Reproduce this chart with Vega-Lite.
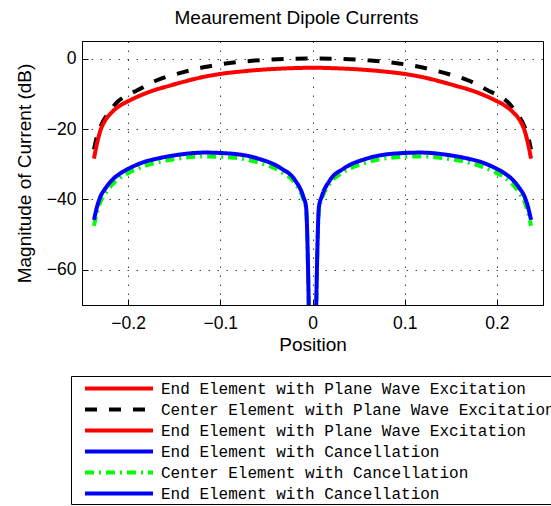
{
  "$schema": "https://vega.github.io/schema/vega-lite/v6.json",
  "width": 461,
  "height": 264,
  "autosize": {"type": "none"},
  "padding": {"left": 82, "top": 41, "right": 8, "bottom": 201},
  "background": "white",
  "title": {"text": "Meaurement Dipole Currents", "font": "Liberation Sans", "fontSize": 19, "fontWeight": "normal", "color": "black", "anchor": "middle", "dx": -16, "offset": 13},
  "config": {
    "view": {"stroke": "black", "strokeWidth": 1},
    "axis": {"domainColor": "black", "domainWidth": 1, "tickColor": "black", "labelColor": "black", "titleColor": "black", "labelFont": "Liberation Sans", "titleFont": "Liberation Sans", "labelFontSize": 17.5, "titleFontSize": 19, "titleFontWeight": "normal", "grid": true, "gridColor": "black", "gridDash": [1.5, 7.5], "gridOpacity": 0.75, "tickSize": -6},
    "legend": {"orient": "none", "legendX": -11, "legendY": 335, "direction": "vertical", "symbolType": "M-4.25,0H4.25", "symbolSize": 256, "symbolStrokeWidth": 4, "symbolOffset": 35.5, "labelOffset": 32, "labelFont": "Liberation Mono", "labelFontSize": 16, "labelColor": "black", "labelLimit": 1000, "strokeColor": "black", "fillColor": "white", "padding": 2.5, "rowPadding": 3.0, "cornerRadius": 0}
  },
  "data": {"values": [
    {"s": "k", "x": -0.237, "y": -25.8},
    {"s": "k", "x": -0.2337, "y": -22.0},
    {"s": "k", "x": -0.2275, "y": -18.0},
    {"s": "k", "x": -0.22, "y": -15.0},
    {"s": "k", "x": -0.212, "y": -12.4},
    {"s": "k", "x": -0.2, "y": -10.3},
    {"s": "k", "x": -0.19, "y": -9.0},
    {"s": "k", "x": -0.17, "y": -6.3},
    {"s": "k", "x": -0.142, "y": -4.0},
    {"s": "k", "x": -0.117, "y": -2.4},
    {"s": "k", "x": -0.088, "y": -1.2},
    {"s": "k", "x": -0.063, "y": -0.57},
    {"s": "k", "x": -0.03, "y": -0.1},
    {"s": "k", "x": 0, "y": 0},
    {"s": "k", "x": 0.03, "y": -0.1},
    {"s": "k", "x": 0.063, "y": -0.57},
    {"s": "k", "x": 0.088, "y": -1.2},
    {"s": "k", "x": 0.117, "y": -2.4},
    {"s": "k", "x": 0.142, "y": -4.0},
    {"s": "k", "x": 0.17, "y": -6.3},
    {"s": "k", "x": 0.19, "y": -9.0},
    {"s": "k", "x": 0.2, "y": -10.3},
    {"s": "k", "x": 0.212, "y": -12.4},
    {"s": "k", "x": 0.22, "y": -15.0},
    {"s": "k", "x": 0.2275, "y": -18.0},
    {"s": "k", "x": 0.2337, "y": -22.0},
    {"s": "k", "x": 0.237, "y": -25.8},
    {"s": "r1", "x": -0.237, "y": -28.4},
    {"s": "r1", "x": -0.2337, "y": -24.1},
    {"s": "r1", "x": -0.23, "y": -20.4},
    {"s": "r1", "x": -0.2247, "y": -17.5},
    {"s": "r1", "x": -0.2174, "y": -15.2},
    {"s": "r1", "x": -0.2084, "y": -13.3},
    {"s": "r1", "x": -0.2, "y": -12.1},
    {"s": "r1", "x": -0.187, "y": -10.5},
    {"s": "r1", "x": -0.172, "y": -9.0},
    {"s": "r1", "x": -0.155, "y": -7.7},
    {"s": "r1", "x": -0.14, "y": -6.6},
    {"s": "r1", "x": -0.12, "y": -5.3},
    {"s": "r1", "x": -0.101, "y": -4.4},
    {"s": "r1", "x": -0.075, "y": -3.6},
    {"s": "r1", "x": -0.052, "y": -3.1},
    {"s": "r1", "x": -0.025, "y": -2.75},
    {"s": "r1", "x": 0, "y": -2.6},
    {"s": "r1", "x": 0.025, "y": -2.75},
    {"s": "r1", "x": 0.052, "y": -3.1},
    {"s": "r1", "x": 0.075, "y": -3.6},
    {"s": "r1", "x": 0.101, "y": -4.4},
    {"s": "r1", "x": 0.12, "y": -5.3},
    {"s": "r1", "x": 0.14, "y": -6.6},
    {"s": "r1", "x": 0.155, "y": -7.7},
    {"s": "r1", "x": 0.172, "y": -9.0},
    {"s": "r1", "x": 0.187, "y": -10.5},
    {"s": "r1", "x": 0.2, "y": -12.1},
    {"s": "r1", "x": 0.2084, "y": -13.3},
    {"s": "r1", "x": 0.2174, "y": -15.2},
    {"s": "r1", "x": 0.2247, "y": -17.5},
    {"s": "r1", "x": 0.23, "y": -20.4},
    {"s": "r1", "x": 0.2337, "y": -24.1},
    {"s": "r1", "x": 0.237, "y": -28.4},
    {"s": "g", "x": -0.237, "y": -47.5},
    {"s": "g", "x": -0.2337, "y": -43.7},
    {"s": "g", "x": -0.23, "y": -40.7},
    {"s": "g", "x": -0.2247, "y": -38.3},
    {"s": "g", "x": -0.2174, "y": -35.8},
    {"s": "g", "x": -0.2084, "y": -33.8},
    {"s": "g", "x": -0.1975, "y": -32.2},
    {"s": "g", "x": -0.183, "y": -30.6},
    {"s": "g", "x": -0.17, "y": -29.6},
    {"s": "g", "x": -0.15, "y": -28.6},
    {"s": "g", "x": -0.117, "y": -27.8},
    {"s": "g", "x": -0.088, "y": -28.1},
    {"s": "g", "x": -0.059, "y": -29.5},
    {"s": "g", "x": -0.034, "y": -32.2},
    {"s": "g", "x": -0.019, "y": -35.4},
    {"s": "g", "x": -0.01, "y": -39.9},
    {"s": "g", "x": -0.007, "y": -42.7},
    {"s": "g", "x": 0, "y": -110},
    {"s": "g", "x": 0.007, "y": -42.7},
    {"s": "g", "x": 0.01, "y": -39.9},
    {"s": "g", "x": 0.019, "y": -35.4},
    {"s": "g", "x": 0.034, "y": -32.2},
    {"s": "g", "x": 0.059, "y": -29.5},
    {"s": "g", "x": 0.088, "y": -28.1},
    {"s": "g", "x": 0.117, "y": -27.8},
    {"s": "g", "x": 0.15, "y": -28.6},
    {"s": "g", "x": 0.17, "y": -29.6},
    {"s": "g", "x": 0.183, "y": -30.6},
    {"s": "g", "x": 0.1975, "y": -32.2},
    {"s": "g", "x": 0.2084, "y": -33.8},
    {"s": "g", "x": 0.2174, "y": -35.8},
    {"s": "g", "x": 0.2247, "y": -38.3},
    {"s": "g", "x": 0.23, "y": -40.7},
    {"s": "g", "x": 0.2337, "y": -43.7},
    {"s": "g", "x": 0.237, "y": -47.5},
    {"s": "b1", "x": -0.237, "y": -45.8},
    {"s": "b1", "x": -0.2337, "y": -42.1},
    {"s": "b1", "x": -0.23, "y": -39.2},
    {"s": "b1", "x": -0.2247, "y": -36.9},
    {"s": "b1", "x": -0.2174, "y": -34.5},
    {"s": "b1", "x": -0.2084, "y": -32.6},
    {"s": "b1", "x": -0.1975, "y": -31.0},
    {"s": "b1", "x": -0.183, "y": -29.4},
    {"s": "b1", "x": -0.17, "y": -28.5},
    {"s": "b1", "x": -0.15, "y": -27.5},
    {"s": "b1", "x": -0.117, "y": -26.7},
    {"s": "b1", "x": -0.088, "y": -27.0},
    {"s": "b1", "x": -0.059, "y": -28.4},
    {"s": "b1", "x": -0.034, "y": -31.2},
    {"s": "b1", "x": -0.019, "y": -34.5},
    {"s": "b1", "x": -0.01, "y": -39.2},
    {"s": "b1", "x": -0.007, "y": -42.1},
    {"s": "b1", "x": 0, "y": -110},
    {"s": "b1", "x": 0.007, "y": -42.1},
    {"s": "b1", "x": 0.01, "y": -39.2},
    {"s": "b1", "x": 0.019, "y": -34.5},
    {"s": "b1", "x": 0.034, "y": -31.2},
    {"s": "b1", "x": 0.059, "y": -28.4},
    {"s": "b1", "x": 0.088, "y": -27.0},
    {"s": "b1", "x": 0.117, "y": -26.7},
    {"s": "b1", "x": 0.15, "y": -27.5},
    {"s": "b1", "x": 0.17, "y": -28.5},
    {"s": "b1", "x": 0.183, "y": -29.4},
    {"s": "b1", "x": 0.1975, "y": -31.0},
    {"s": "b1", "x": 0.2084, "y": -32.6},
    {"s": "b1", "x": 0.2174, "y": -34.5},
    {"s": "b1", "x": 0.2247, "y": -36.9},
    {"s": "b1", "x": 0.23, "y": -39.2},
    {"s": "b1", "x": 0.2337, "y": -42.1},
    {"s": "b1", "x": 0.237, "y": -45.8}
  ]},
  "mark": {"type": "line", "strokeWidth": 4, "clip": true, "interpolate": "monotone"},
  "encoding": {
    "x": {"field": "x", "type": "quantitative", "scale": {"domain": [-0.25, 0.25], "nice": false, "zero": false}, "axis": {"values": [-0.2, -0.1, 0, 0.1, 0.2], "format": ".1~f", "title": "Position", "labelPadding": 15, "titlePadding": 4}},
    "y": {"field": "y", "type": "quantitative", "scale": {"domain": [-70, 5], "nice": false, "zero": false}, "axis": {"values": [-60, -40, -20, 0], "title": "Magnitude of Current (dB)", "labelPadding": 12, "titlePadding": 12}},
    "color": {"field": "s", "type": "nominal", "scale": {"domain": ["r1", "k", "r2", "b1", "g", "b2"], "range": ["#ff0000", "#000000", "#ff0000", "#0000ff", "#00ff00", "#0000ff"]}, "legend": {"title": null, "labelExpr": "datum.value == 'k' ? 'Center Element with Plane Wave Excitation' : datum.value == 'g' ? 'Center Element with Cancellation' : (datum.value == 'r1' || datum.value == 'r2') ? 'End Element with Plane Wave Excitation' : 'End Element with Cancellation'"}},
    "strokeDash": {"field": "s", "type": "nominal", "scale": {"domain": ["r1", "k", "r2", "b1", "g", "b2"], "range": [[1, 0], [12, 12], [1, 0], [1, 0], [9, 5, 2, 5], [1, 0]]}, "legend": {"title": null, "labelExpr": "datum.value == 'k' ? 'Center Element with Plane Wave Excitation' : datum.value == 'g' ? 'Center Element with Cancellation' : (datum.value == 'r1' || datum.value == 'r2') ? 'End Element with Plane Wave Excitation' : 'End Element with Cancellation'"}}
  }
}
